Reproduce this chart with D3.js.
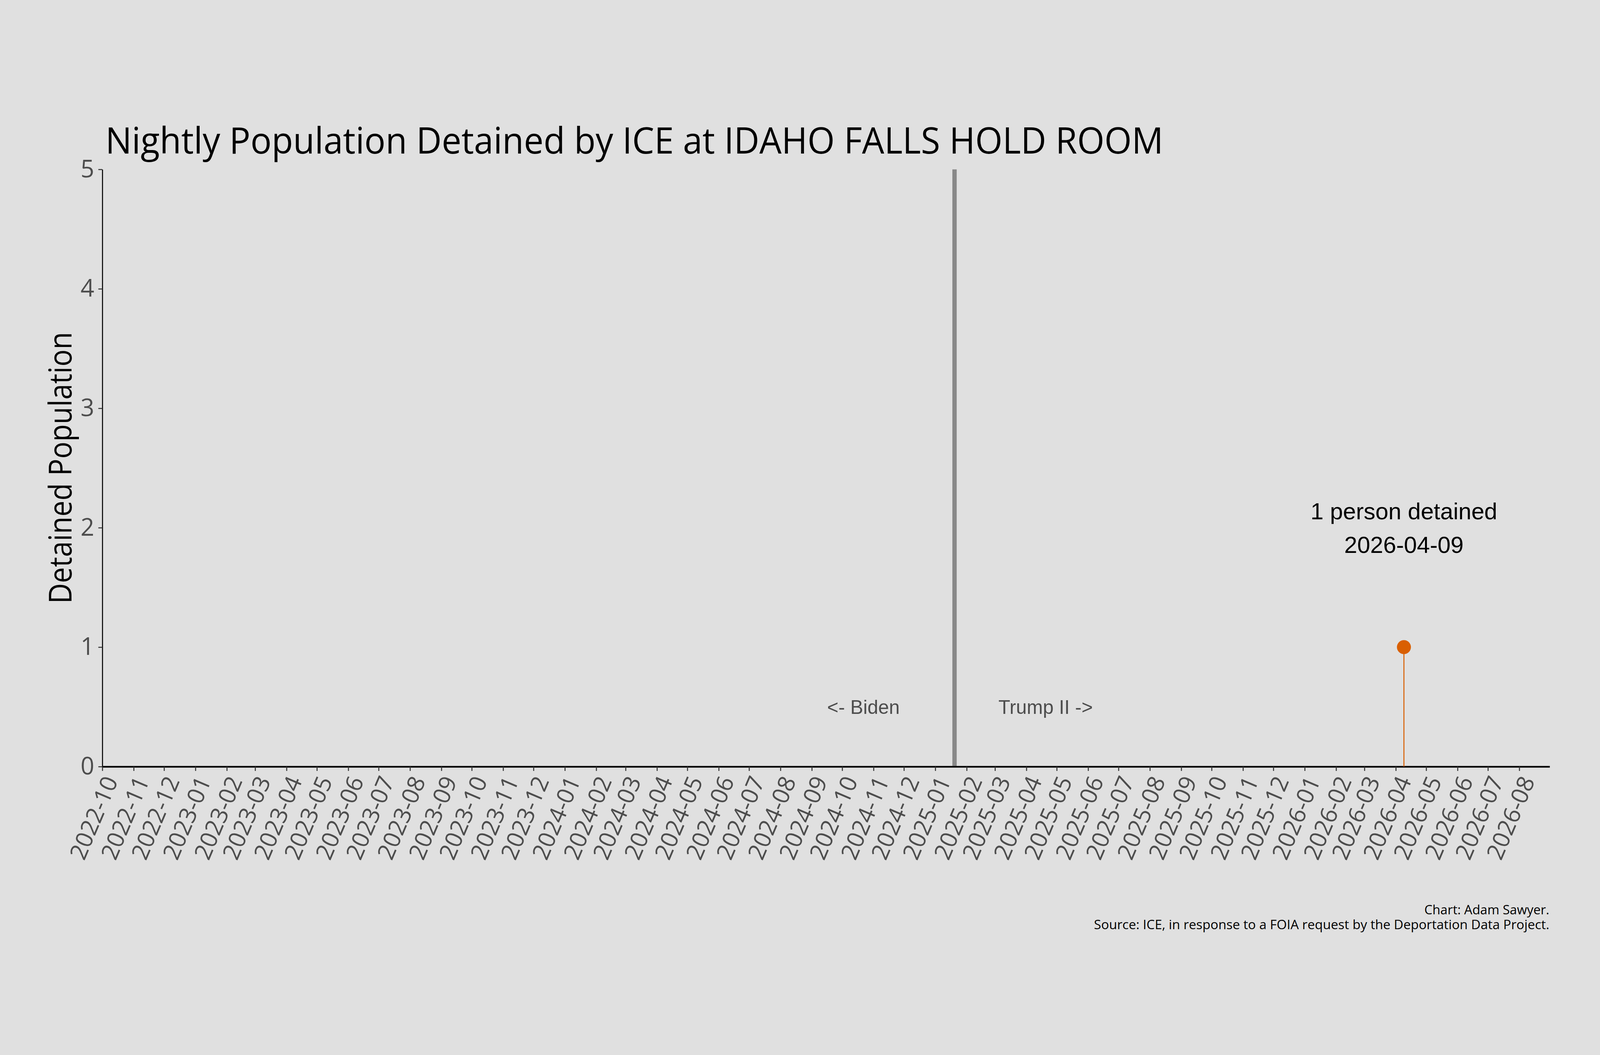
<!DOCTYPE html>
<html>
<head>
<meta charset="utf-8">
<script src="https://cdn.jsdelivr.net/npm/d3@7"></script>
<style>
  html, body { margin: 0; padding: 0; background: #e0e0e0; overflow: hidden; width: 100%; height: 100%; }
  svg { display: block; width: 100vw; height: 100vh; }
</style>
</head>
<body>
<svg id="chart"></svg>
<script>
// data
const pointDates = ["2026-04-09"];
const pointValues = [1];
const xDomain = ["2022-10-01", "2026-08-31"];
const yTicks = [0, 1, 2, 3, 4, 5];
const inaugurationDate = "2025-01-20";
const eraLabels = ["<- Biden", "Trump II ->"];
const eraLabelDates = ["2024-10-22", "2025-04-20"];
const eraLabelY = 0.5;
const annotationY = 2;
const titleText = "Nightly Population Detained by ICE at IDAHO FALLS HOLD ROOM";
const yTitle = "Detained Population";
const captionLines = ["Chart: Adam Sawyer.", "Source: ICE, in response to a FOIA request by the Deportation Data Project."];

const W = 4800, H = 2700;
const margin = { left: 307, right: 151, top: 276, bottom: 633 };
const parse = d3.utcParse("%Y-%m-%d");
const fmt = d3.utcFormat("%Y-%m-%d");

const svg = d3.select("#chart")
    .attr("viewBox", `0 0 ${W} ${H}`)
    .attr("preserveAspectRatio", "xMidYMid meet");

svg.append("rect").attr("width", W).attr("height", H).attr("fill", "#e0e0e0");

const x = d3.scaleUtc()
    .domain(xDomain.map(parse))
    .range([margin.left, W - margin.right]);
const y = d3.scaleLinear()
    .domain([0, 5])
    .range([H - margin.bottom, margin.top]);

// title
svg.append("text")
    .attr("x", 316)
    .attr("y", 228)
    .attr("font-family", "Open Sans")
    .attr("font-size", 110)
    .attr("fill", "#000")
    .attr("textLength", 3174)
    .attr("lengthAdjust", "spacingAndGlyphs")
    .text(titleText);

// inauguration line
svg.append("line")
    .attr("x1", x(parse(inaugurationDate)))
    .attr("x2", x(parse(inaugurationDate)))
    .attr("y1", y(0))
    .attr("y2", y(5))
    .attr("stroke", "#888888")
    .attr("stroke-width", 13);

eraLabels.forEach((lab, i) => {
    svg.append("text")
        .attr("x", x(parse(eraLabelDates[i])))
        .attr("y", y(eraLabelY))
        .attr("text-anchor", "middle")
        .attr("dominant-baseline", "central")
        .attr("font-family", "Liberation Sans")
        .attr("font-size", 58)
        .attr("fill", "#4d4d4d")
        .text(lab);
});

// x axis
const xAxis = svg.append("g")
    .attr("transform", `translate(0,${y(0)})`)
    .call(d3.axisBottom(x)
        .ticks(d3.utcMonth.every(1))
        .tickFormat(d3.utcFormat("%Y-%m"))
        .tickSize(13)
        .tickSizeOuter(0));
xAxis.select(".domain").attr("stroke", "#000").attr("stroke-width", 5);
xAxis.selectAll(".tick line").attr("stroke", "#333").attr("stroke-width", 3);
xAxis.selectAll(".tick text")
    .attr("x", 0).attr("y", 0).attr("dy", "0.35em")
    .attr("transform", "translate(25,33) rotate(-67)")
    .attr("text-anchor", "end")
    .attr("font-family", "Open Sans")
    .attr("font-size", 70)
    .attr("fill", "#4d4d4d");

// y axis
const yAxis = svg.append("g")
    .attr("transform", `translate(${margin.left},0)`)
    .call(d3.axisLeft(y)
        .tickValues(yTicks)
        .tickFormat(d3.format("d"))
        .tickSize(12)
        .tickPadding(12)
        .tickSizeOuter(0));
yAxis.select(".domain").attr("stroke", "#000").attr("stroke-width", 3);
yAxis.selectAll(".tick line").attr("stroke", "#333").attr("stroke-width", 3);
yAxis.selectAll(".tick text")
    .attr("font-family", "Open Sans")
    .attr("font-size", 72)
    .attr("fill", "#4d4d4d");

svg.append("text")
    .attr("transform", `translate(215,${(y(0) + y(5)) / 2}) rotate(-90)`)
    .attr("x", -407)
    .attr("font-family", "Open Sans")
    .attr("font-size", 94)
    .attr("fill", "#000")
    .attr("textLength", 815)
    .attr("lengthAdjust", "spacingAndGlyphs")
    .text(yTitle);

// data points (lollipop)
const pts = pointDates.map((d, i) => ({ date: parse(d), value: pointValues[i] }));
svg.selectAll(".stem").data(pts).join("line")
    .attr("class", "stem")
    .attr("x1", d => x(d.date)).attr("x2", d => x(d.date))
    .attr("y1", y(0)).attr("y2", d => y(d.value))
    .attr("stroke", "#d95f02")
    .attr("stroke-width", 3);
svg.selectAll(".pt").data(pts).join("circle")
    .attr("class", "pt")
    .attr("cx", d => x(d.date))
    .attr("cy", d => y(d.value))
    .attr("r", 21)
    .attr("fill", "#d95f02");

// annotation
pts.forEach(d => {
    const t = svg.append("text")
        .attr("text-anchor", "middle")
        .attr("font-family", "Liberation Sans")
        .attr("font-size", 70)
        .attr("fill", "#000");
    t.append("tspan").attr("x", x(d.date)).attr("y", y(annotationY) - 25)
        .text(`${d.value} person detained`);
    t.append("tspan").attr("x", x(d.date)).attr("y", y(annotationY) + 76)
        .text(fmt(d.date));
});

// caption
const capLens = [375, 1366];
captionLines.forEach((c, i) => {
    svg.append("text")
        .attr("x", 4648 - capLens[i])
        .attr("y", 2510 + i * 45)
        .attr("font-family", "Open Sans")
        .attr("font-size", 38)
        .attr("fill", "#000")
        .attr("textLength", capLens[i])
        .attr("lengthAdjust", "spacingAndGlyphs")
        .text(c);
});
</script>
</body>
</html>
